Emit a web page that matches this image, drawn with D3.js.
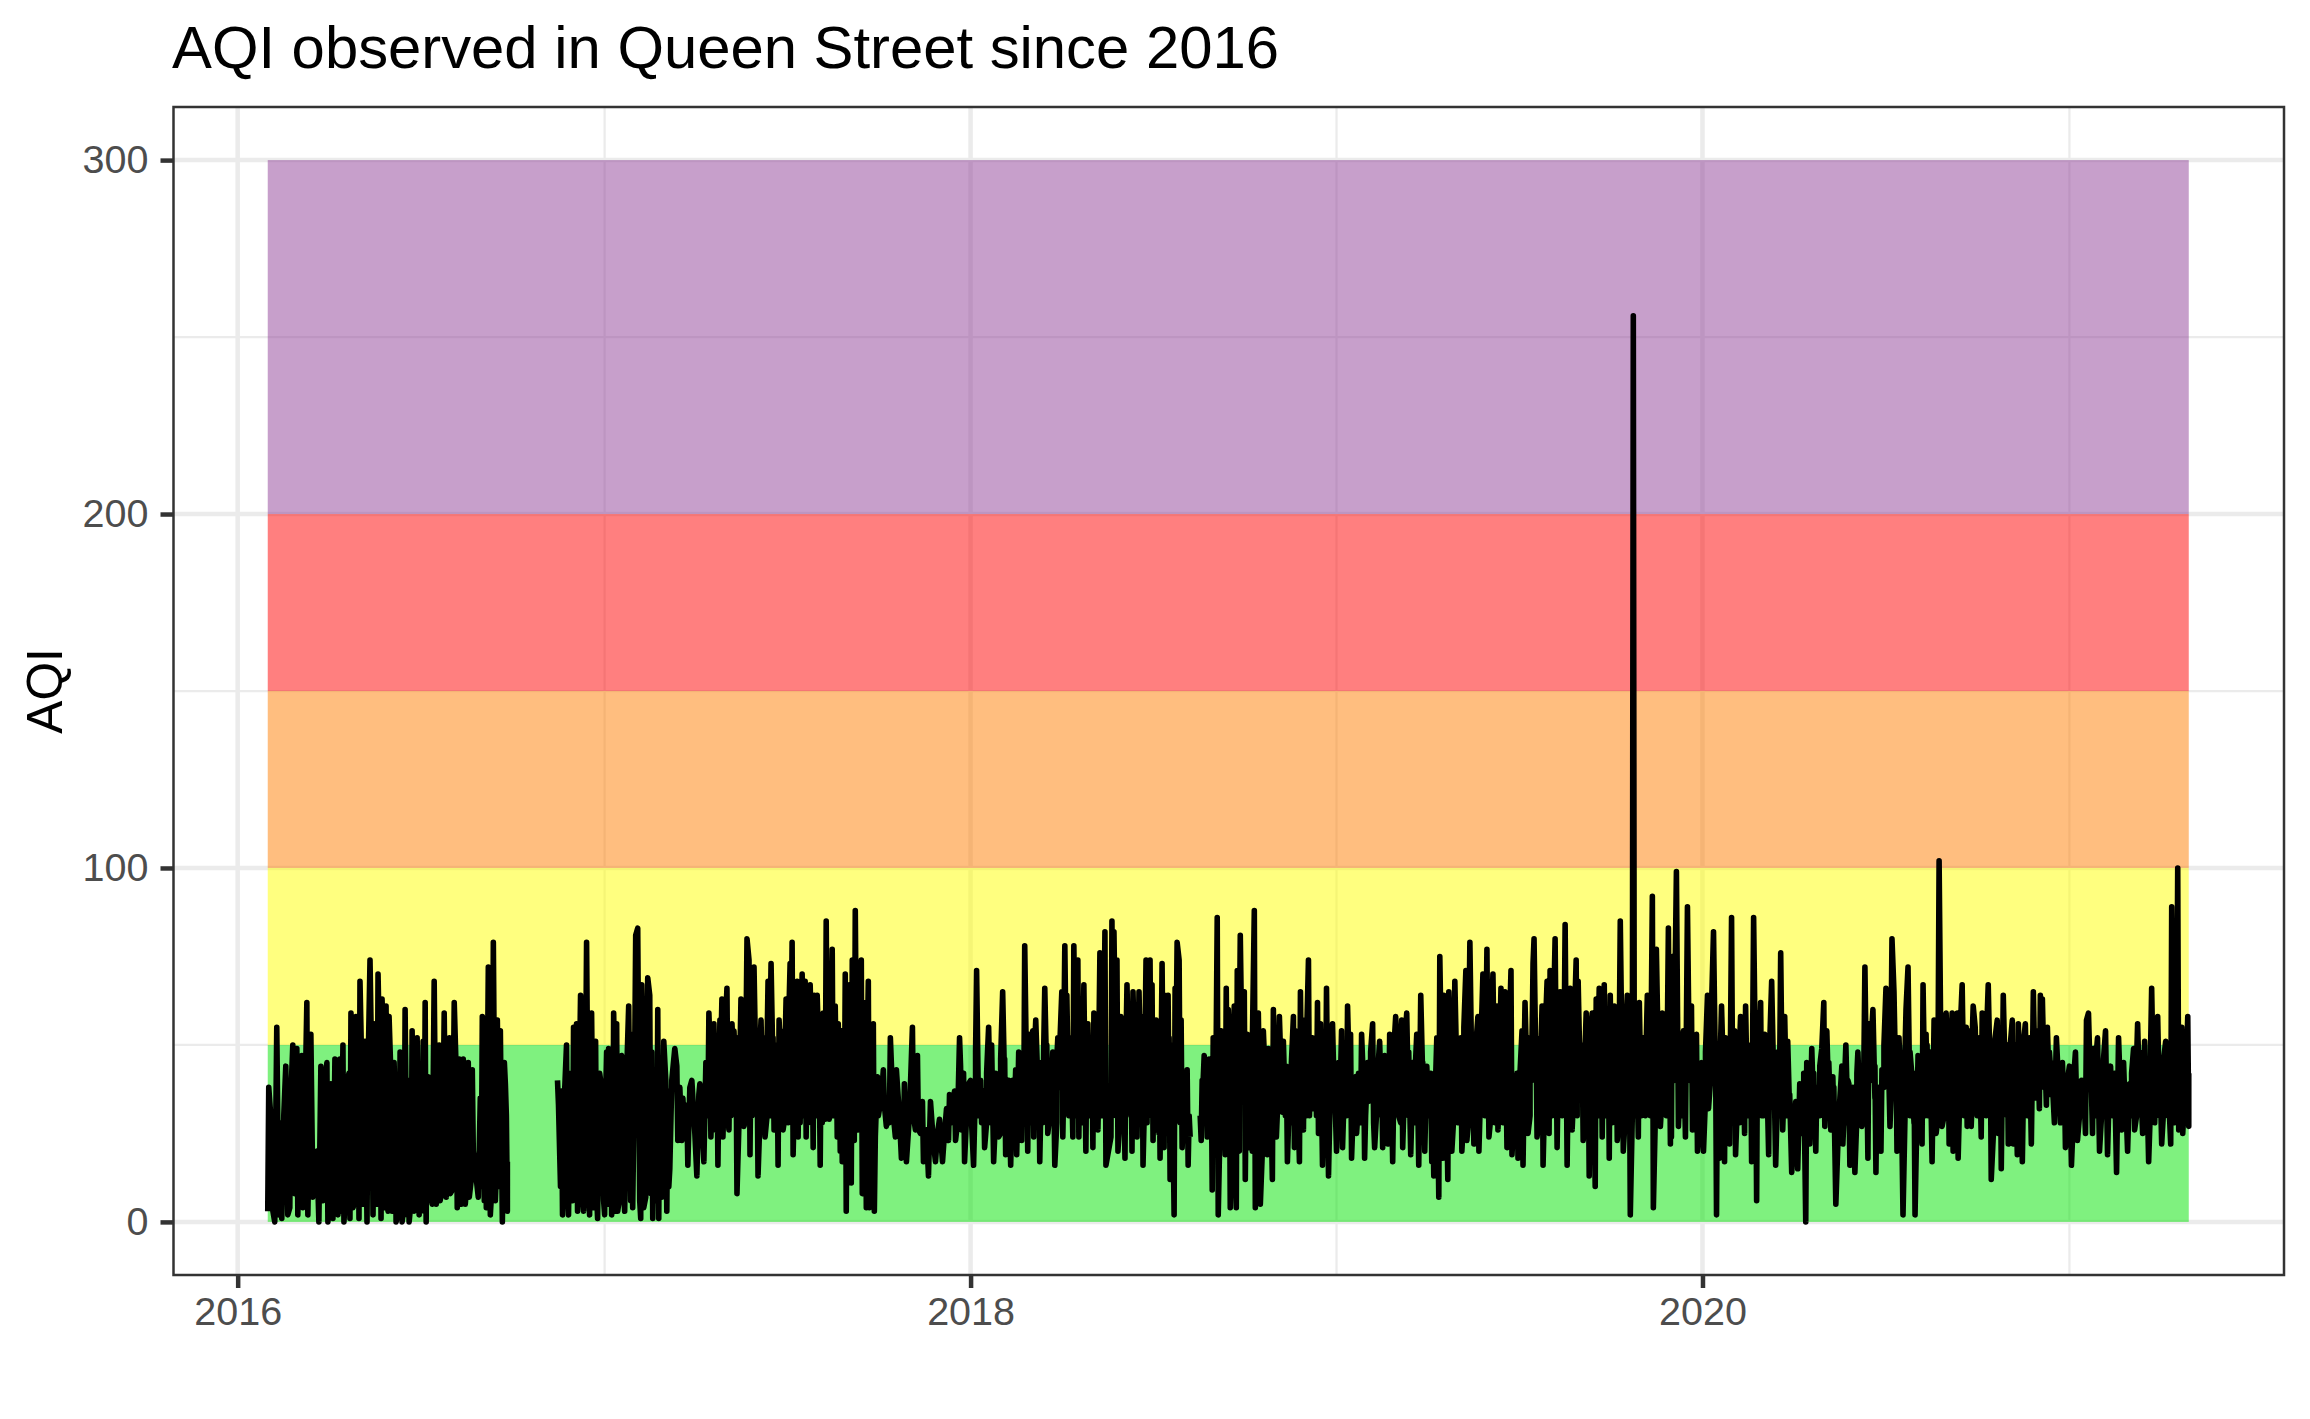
<!DOCTYPE html>
<html>
<head>
<meta charset="utf-8">
<title>AQI observed in Queen Street since 2016</title>
<script src="https://cdnjs.cloudflare.com/ajax/libs/d3/7.8.5/d3.min.js"></script>
<style>
  body { margin: 0; background: #fff; }
  text { font-family: "Liberation Sans", Arial, sans-serif; }
</style>
</head>
<body>
<svg id="chart"></svg>
<script>
// AQI bands: lower, upper, colour
const bandLower = [0, 50, 100, 150, 200];
const bandUpper = [50, 100, 150, 200, 300];
const bandColors = ['#00e400', '#ffff00', '#ff7e00', '#ff0000', '#8f3f97'];

const yMajorTicks = [0, 100, 200, 300];
const yMinorTicks = [50, 150, 250];
const xMajorYears = ['2016-01-01', '2018-01-01', '2020-01-01'];
const xMinorYears = ['2017-01-01', '2019-01-01', '2021-01-01'];

// Peaks and troughs as [days after the block's start date, AQI], null = no data
const startA = '2016-01-31';
const readingsA = [[0,3],[1,38],[4,5],[7,0],[9,55],[11,2],[14,1],[18,44],[20,2],[22,4],[25,50],[27,8],[29,49],[30,2],[34,47],[35,4],[39,62],[40,2],[43,53],[45,7],[47,14],[51,0],[53,44],[55,6],[59,45],[60,0],[63,39],[65,1],[67,46],[70,2],[72,46],[73,3],[75,50],[76,0],[79,39],[82,1],[83,59],[85,4],[88,58],[91,1],[92,68],[95,5],[97,51],[99,0],[102,74],[105,2],[107,56],[110,70],[113,1],[114,63],[117,4],[118,61],[120,3],[121,58],[124,3],[126,45],[128,0],[130,3],[132,48],[134,0],[137,60],[139,2],[141,0],[144,54],[146,3],[149,52],[151,2],[155,51],[156,3],[157,62],[158,0],[160,41],[164,5],[166,68],[168,5],[171,50],[172,6],[176,59],[178,7],[181,52],[182,8],[186,62],[189,4],[191,46],[193,5],[195,46],[197,5],[200,45],[201,7],[204,43],[205,20],[210,7],[212,35],[214,58],[216,6],[218,4],[220,72],[222,2],[225,79],[227,6],[229,57],[232,54],[234,0],[237,39],[239,3],[239,17],[240,null]];

const startB = '2016-11-07';
const readingsB = [[8,40],[9,33],[12,37],[13,2],[17,50],[19,2],[23,6],[24,55],[27,56],[28,3],[31,64],[34,3],[37,79],[40,2],[42,59],[44,4],[46,51],[48,1],[52,38],[55,2],[57,48],[58,5],[59,49],[62,2],[64,59],[66,3],[67,56],[68,3],[72,47],[75,3],[79,61],[82,53],[83,4],[86,81],[88,83],[91,1],[92,67],[94,4],[98,69],[100,64],[102,48],[103,1],[108,60],[109,1],[114,51],[117,3],[118,37],[120,15],[125,49],[127,44],[128,23],[132,23],[133,35],[137,33],[138,16],[142,40],[147,13],[150,39],[154,17],[156,45],[159,59],[161,24],[164,56],[168,16],[170,57],[172,63],[173,24],[177,66],[179,26],[182,56],[184,54],[187,8],[191,63],[194,27],[197,80],[199,74],[200,19],[204,72],[208,13],[211,57],[215,24],[218,68],[221,73],[224,26],[228,16],[229,57],[231,54],[233,26],[236,63],[240,73],[242,79],[243,19],[247,68],[248,24],[252,70],[255,68],[256,24],[260,67],[263,21],[264,64],[267,64],[270,16],[273,59],[275,29],[276,85],[279,29]];

const startC = '2017-08-14';
const readingsC = [[0,32],[2,77],[5,61],[7,24],[8,56],[10,20],[12,17],[15,70],[16,3],[19,67],[21,11],[22,74],[24,23],[25,88],[28,26],[31,74],[32,8],[35,62],[36,4],[38,68],[39,4],[43,56],[44,3],[47,41],[48,30],[53,43],[54,33],[57,31],[60,52],[65,24],[66,43],[71,18],[74,39],[76,17],[82,55],[83,30],[87,47],[88,26],[92,34],[93,17],[98,13],[100,34],[105,17],[109,29],[112,17],[116,32],[118,23],[119,36],[124,37],[125,23],[129,52],[133,42],[134,17],[138,39],[143,16],[146,71],[148,30],[153,37],[154,21],[158,55],[161,50],[163,17],[167,35],[168,24],[172,65],[175,19],[178,40],[180,16],[185,43],[186,19],[191,23],[194,78],[197,20],[198,53],[202,54],[203,24],[205,57],[209,17],[214,66],[217,25],[220,35],[224,16],[227,52],[231,65],[232,24],[234,78],[236,64],[242,24],[243,78],[247,74],[248,24],[253,67],[255,20],[257,56],[262,21],[263,59],[267,26],[269,76],[271,30],[274,82],[275,16]];

const startD = '2018-05-20';
const readingsD = [[1,24],[2,85],[4,82],[7,74],[8,20],[11,58],[15,18],[17,67],[22,20],[23,65],[27,24],[29,65],[32,58],[33,16],[36,74],[38,30],[40,74],[42,67],[43,23],[46,57],[50,18],[52,73],[54,21],[55,64],[58,64],[60,12],[64,2],[65,66],[67,79],[69,74],[71,57],[72,21],[77,43],[78,16],[80,24],[85,null],[90,30],[91,23],[94,47],[97,24],[99,46],[102,9],[103,52],[107,86],[108,2],[111,54],[115,19],[116,66],[118,60],[120,4],[124,61],[126,4],[127,71],[130,81],[134,65],[135,12],[137,53],[138,21],[144,88],[145,4],[148,59],[150,5],[153,54],[157,19],[158,49],[162,12],[163,60],[166,24],[169,58],[172,31],[173,51],[176,44],[177,17],[183,58],[184,21],[185,54],[189,17],[190,65],[193,26],[194,57],[198,74],[199,30],[202,52],[203,32],[207,62],[208,25],[210,56],[212,16],[216,66],[218,13],[222,56],[226,20],[231,54],[232,21],[237,61],[240,53],[241,18],[245,41],[246,25],[251,53],[254,18],[257,45],[258,34],[262,56],[264,21],[269,51],[272,21],[274,47],[277,22],[279,53]];

const startE = '2019-02-23';
const readingsE = [[3,17],[6,58],[9,30],[12,57],[13,21],[17,59],[21,19],[27,53],[29,16],[31,64],[35,20],[37,44],[42,17],[43,34],[44,13],[47,52],[49,7],[50,75],[53,18],[54,64],[58,12],[59,65],[62,20],[65,68],[70,45],[72,20],[76,71],[77,23],[80,79],[84,22],[88,58],[89,20],[93,70],[95,30],[97,77],[99,24],[103,70],[105,28],[107,61],[108,26],[111,66],[113,28],[115,65],[117,21],[121,71],[122,19],[125,41],[128,18],[132,54],[133,16],[135,62],[138,25],[143,73],[144,80],[147,24],[152,61],[153,16],[157,68],[159,25],[160,71],[165,80],[167,21],[170,65],[175,84],[177,16],[180,66],[182,26],[186,74],[188,68],[193,23],[196,59],[199,13],[200,52],[202,59],[205,10],[206,63],[209,66],[212,24],[214,67],[219,18],[220,64],[222,28],[224,61],[227,23],[230,85],[233,20],[237,64],[240,2],[242,30],[243,256],[244,30],[248,24],[249,62],[255,30],[257,64],[260,30],[262,92],[263,4],[266,77],[270,27],[272,59],[276,30],[278,83],[280,22]];

const startF = '2019-11-29';
const readingsF = [[2,24],[3,75],[7,99],[9,27],[14,54],[16,24],[18,89],[22,61],[23,26],[27,53],[28,20],[32,45],[34,20],[38,64],[39,32],[44,82],[47,2],[48,47],[50,18],[52,61],[55,17],[56,52],[60,22],[62,86],[65,54],[66,19],[71,58],[75,25],[76,61],[80,47],[82,17],[84,86],[87,6],[88,59],[91,62],[92,30],[95,53],[99,19],[100,50],[102,68],[106,16],[111,76],[113,26],[115,58],[118,51],[122,14],[126,34],[128,15],[130,39],[136,0],[137,45],[140,22],[142,49],[146,20],[147,38],[152,49],[154,62],[155,27],[157,54],[161,26],[163,41],[166,5],[172,44],[173,22],[176,50],[179,39],[180,16],[185,14],[188,48],[192,27],[195,72],[198,18],[199,56],[203,60],[206,14],[207,38],[211,20],[212,43],[216,66],[220,27],[222,80],[224,65],[227,20],[229,52],[233,2],[236,60],[238,72],[242,41],[245,2],[248,47],[252,22],[253,67],[256,53],[258,30]];

const startG = '2020-08-14';
const readingsG = [[3,17],[5,57],[7,25],[10,102],[13,27],[17,59],[20,22],[23,59],[24,20],[28,59],[29,18],[33,67],[38,27],[41,54],[42,27],[44,61],[46,55],[52,24],[53,59],[59,67],[62,12],[68,57],[69,25],[72,15],[74,64],[79,22],[83,57],[84,22],[88,19],[89,56],[93,17],[96,56],[102,22],[104,65],[110,32],[111,64],[113,63],[117,33],[118,55],[125,28],[127,52],[131,28],[133,45],[136,21],[140,44],[142,16],[146,48],[148,23],[152,40],[156,25],[157,57],[159,59],[163,25],[164,49],[168,52],[170,20],[176,54],[178,19],[181,44],[187,14],[189,52],[192,26],[194,45],[198,20],[200,39],[204,49],[205,26],[208,56],[213,25],[215,51],[219,17],[222,66],[225,28],[228,58],[232,22],[236,51],[241,22],[242,89],[245,28],[248,100],[249,26],[252,55],[253,25],[258,58],[259,27],[259,42]];

// Readings estimated inside the dense black mass, between the peaks and troughs
const denseA = [[3,30],[12,28],[16,30],[23,35],[32,36],[37,30],[49,20],[57,38],[62,8],[69,33],[78,10],[81,42],[87,6],[90,44],[94,40],[100,42],[104,38],[109,5],[112,41],[116,44],[119,6],[123,40],[127,35],[131,7],[136,5],[140,40],[143,6],[148,8],[152,42],[154,7],[159,39],[162,9],[165,38],[170,40],[174,10],[179,44],[184,9],[188,42],[192,10],[196,41],[199,12],[203,12],[213,10],[217,40],[221,45],[224,12],[228,14],[231,10],[236,45],[238,30]];
const denseB = [[11,10],[15,36],[18,8],[21,42],[26,8],[30,44],[33,7],[36,40],[39,8],[41,45],[45,40],[47,8],[50,42],[54,6],[56,35],[61,42],[63,6],[65,44],[70,7],[71,46],[74,8],[77,42],[81,6],[85,46],[90,6],[93,45],[96,7],[97,48],[101,8],[105,40],[107,6],[110,45],[112,7],[116,40],[119,10],[122,40],[130,38],[135,26],[140,38],[145,25],[149,36],[152,28],[158,30],[163,42],[166,26],[169,40],[175,44],[178,30],[181,30],[186,40],[189,28],[193,40],[196,30],[202,30],[206,40],[210,30],[213,28],[217,30],[220,30],[223,42],[226,44],[232,28],[235,30],[238,28],[241,30],[245,44],[250,28],[254,30],[258,28],[262,44],[266,30],[269,46],[272,28],[277,40],[278,30]];
const denseC = [[3,30],[6,40],[9,45],[11,40],[14,22],[18,35],[20,50],[23,40],[27,45],[29,30],[30,40],[33,35],[34,30],[37,40],[41,42],[42,15],[45,24],[51,35],[56,27],[59,28],[63,30],[69,30],[73,22],[79,30],[85,26],[90,25],[96,26],[103,22],[107,25],[114,25],[121,28],[127,28],[131,26],[136,30],[141,28],[145,40],[151,28],[156,28],[160,28],[165,30],[170,25],[174,38],[177,26],[183,26],[189,40],[193,30],[196,38],[200,28],[207,40],[212,28],[216,40],[219,30],[223,38],[226,28],[229,38],[233,40],[238,30],[240,44],[245,30],[250,40],[252,28],[259,30],[261,44],[265,30],[268,40],[273,30]];
const denseD = [[3,30],[6,40],[10,30],[13,45],[19,40],[21,30],[25,40],[26,30],[31,35],[35,40],[37,28],[41,35],[45,26],[48,40],[49,25],[53,40],[57,25],[59,30],[62,40],[66,30],[70,28],[74,35],[76,25],[79,30],[93,40],[96,40],[101,40],[105,30],[106,40],[110,30],[113,40],[117,30],[119,45],[122,20],[125,40],[129,20],[132,40],[136,40],[140,45],[142,20],[147,25],[149,40],[152,20],[155,40],[156,26],[160,40],[164,40],[168,38],[171,40],[175,30],[179,36],[181,28],[187,40],[188,28],[191,40],[196,30],[200,40],[205,38],[206,30],[209,35],[214,38],[215,30],[220,40],[224,32],[228,38],[229,28],[234,40],[236,30],[239,38],[243,34],[248,34],[250,28],[253,38],[255,30],[260,40],[263,28],[267,36],[271,30],[275,36],[278,28]];
const denseE = [[1,40],[4,35],[8,40],[11,28],[15,40],[19,30],[23,40],[25,28],[33,40],[39,30],[41,38],[46,26],[52,40],[56,30],[61,40],[64,30],[68,28],[71,40],[74,30],[79,30],[82,40],[86,40],[91,40],[94,42],[98,40],[101,30],[106,40],[110,40],[112,40],[114,40],[119,40],[124,30],[127,38],[130,30],[134,35],[137,40],[140,30],[142,40],[146,40],[149,30],[151,38],[155,40],[158,40],[162,30],[163,40],[168,40],[172,30],[174,40],[178,40],[181,38],[184,40],[187,30],[190,40],[192,40],[195,30],[198,40],[203,30],[208,30],[211,40],[216,30],[218,42],[226,40],[229,30],[232,40],[235,30],[239,40],[246,40],[251,30],[253,44],[256,44],[259,44],[265,30],[268,45],[271,32],[274,44],[277,44],[279,40]];
const denseF = [[1,40],[5,40],[11,40],[12,30],[20,40],[25,40],[30,28],[36,35],[41,40],[46,40],[51,30],[54,40],[58,30],[63,40],[68,35],[70,28],[73,40],[78,30],[81,40],[86,40],[90,35],[94,30],[97,35],[104,40],[108,38],[110,30],[114,35],[117,30],[120,30],[125,30],[132,25],[134,35],[139,32],[144,30],[150,30],[156,40],[159,33],[164,30],[169,30],[175,35],[178,28],[183,30],[187,30],[190,32],[194,35],[197,30],[201,40],[205,35],[209,32],[214,38],[218,40],[221,35],[226,35],[231,35],[235,30],[240,30],[244,28],[250,38],[255,30],[257,36]];
const denseG = [[1,40],[6,40],[9,30],[12,40],[15,30],[19,40],[22,35],[26,40],[31,40],[35,30],[37,45],[40,35],[43,35],[48,30],[50,40],[55,35],[57,30],[61,40],[65,30],[71,40],[76,40],[78,30],[81,40],[86,35],[91,38],[94,35],[98,30],[100,40],[106,35],[108,36],[112,40],[115,38],[120,36],[122,40],[129,40],[135,30],[138,30],[144,30],[150,30],[154,30],[161,38],[166,30],[172,30],[174,38],[179,30],[183,30],[185,35],[191,35],[196,28],[202,30],[207,30],[210,35],[217,30],[221,34],[224,35],[230,30],[234,32],[238,30],[244,40],[247,30],[251,35],[255,36],[257,30]];

// Estimated readings along the top of the solid mass
const upperB = [[160,50],[163,50],[167,48],[171,50],[175,52],[180,50],[183,50],[186,52],[190,48],[193,52],[196,52],[201,50],[203,50],[207,48],[210,50],[214,52],[217,50],[220,54],[223,52],[227,50],[230,50],[235,50],[238,50],[241,52],[246,54],[249,52],[251,52],[254,52],[257,50],[259,52],[262,52],[265,50],[268,54],[271,50],[274,50],[278,54]];
const upperC = [[4,52],[6,54],[9,50],[11,54],[13,52],[17,50],[20,55],[23,54],[26,52],[30,54],[33,50],[37,50],[40,50],[130,44],[140,40],[145,48],[150,40],[156,42],[160,44],[165,42],[170,46],[174,46],[177,40],[182,40],[188,48],[192,46],[196,50],[200,48],[204,50],[208,45],[211,45],[213,50],[216,50],[219,44],[222,48],[226,46],[229,50],[233,52],[235,55],[238,50],[240,52],[245,50],[249,50],[252,50],[256,50],[259,50],[261,50],[265,48],[268,52],[270,52],[273,50]];
const upperD = [[3,52],[6,50],[10,50],[13,50],[16,50],[19,52],[21,50],[25,50],[26,52],[31,50],[35,52],[37,50],[39,55],[41,50],[44,50],[48,50],[49,50],[53,52],[56,52],[59,52],[62,50],[66,50],[70,45],[74,42],[92,40],[96,42],[101,45],[105,50],[106,52],[110,50],[113,50],[117,48],[119,55],[122,45],[125,52],[129,50],[132,50],[136,50],[140,50],[142,50],[147,48],[149,50],[152,48],[155,48],[160,42],[164,44],[168,45],[171,42],[175,40],[179,42],[181,45],[187,45],[191,48],[196,50],[200,48],[205,50],[209,48],[214,45],[220,45],[224,40],[228,45],[234,45],[239,44],[243,40],[248,42],[253,45],[260,48],[267,42],[271,42],[275,42]];
const upperE = [[1,48],[4,48],[8,50],[11,50],[15,50],[19,48],[23,45],[25,40],[33,45],[39,40],[41,42],[46,42],[52,45],[56,50],[61,50],[64,50],[68,50],[71,52],[74,55],[79,55],[82,50],[86,50],[91,50],[94,52],[98,50],[101,52],[106,50],[110,52],[112,52],[114,50],[119,50],[124,38],[127,42],[130,42],[134,45],[137,48],[140,52],[142,52],[146,52],[149,50],[151,50],[155,52],[158,52],[162,50],[163,52],[168,52],[172,50],[174,52],[178,54],[181,52],[184,54],[187,50],[190,48],[192,50],[195,50],[198,48],[203,50],[208,52],[211,52],[216,50],[218,52],[226,50],[229,52],[232,52],[235,50],[239,54],[246,52],[251,52],[253,52],[256,52],[259,54],[265,52],[268,56],[271,52],[274,54],[277,54],[279,54]];
const upperF = [[1,50],[5,54],[11,52],[12,50],[20,50],[25,48],[30,44],[36,48],[41,50],[46,50],[51,50],[54,48],[58,50],[63,54],[68,50],[70,50],[73,52],[78,50],[81,50],[86,52],[90,50],[94,46],[97,44],[104,48],[108,48],[110,44],[114,48],[117,42],[120,36],[132,38],[134,42],[139,40],[144,42],[150,44],[156,50],[159,45],[164,38],[175,42],[178,40],[183,38],[187,42],[190,40],[194,45],[197,40],[201,50],[205,44],[209,38],[214,50],[218,52],[221,50],[226,48],[231,42],[235,48],[240,48],[244,42],[250,46],[255,48],[257,50]];
const upperG = [[1,48],[6,52],[9,50],[12,50],[15,52],[19,50],[22,52],[26,54],[31,54],[35,50],[37,55],[40,52],[43,52],[48,50],[50,52],[55,50],[57,50],[61,50],[65,50],[71,50],[76,50],[78,50],[81,50],[86,50],[91,50],[94,50],[98,50],[100,52],[106,50],[108,54],[112,54],[115,52],[120,48],[122,45],[129,45],[135,40],[138,40],[144,40],[150,38],[154,40],[161,48],[166,45],[172,44],[174,46],[179,40],[183,40],[185,42],[191,42],[196,36],[202,42],[207,46],[210,48],[217,42],[221,50],[224,50],[230,46],[234,46],[238,42],[244,50],[247,48],[251,48],[255,50],[257,48]];

const blocks = [
  [startA, readingsA, denseA, []], [startB, readingsB, denseB, upperB], [startC, readingsC, denseC, upperC],
  [startD, readingsD, denseD, upperD], [startE, readingsE, denseE, upperE], [startF, readingsF, denseF, upperF],
  [startG, readingsG, denseG, upperG]
];

const parseDate = d3.utcParse('%Y-%m-%d');
// sort is stable, so points sharing a day keep the order they were read in
const series = blocks.flatMap(([start, readings, dense, upper]) =>
  readings.concat(dense, upper)
    .sort((a, b) => a[0] - b[0])
    .map(r => ({ date: d3.utcDay.offset(parseDate(start), r[0]), aqi: r[1] })));
const dateRange = d3.extent(series, d => d.date);

const bands = bandLower.map((low, i) => ({ low: low, high: bandUpper[i], color: bandColors[i] }));

// Layout
const width = 2310, height = 1419;
const panel = { left: 173.5, right: 2284, top: 107, bottom: 1275 };

const svg = d3.select('#chart').attr('width', width).attr('height', height);

const xScale = d3.scaleUtc()
    .domain([parseDate('2015-10-29'), parseDate('2021-08-03')])
    .range([panel.left, panel.right]);
const yScale = d3.scaleLinear()
    .domain([-15, 315])
    .range([panel.bottom, panel.top]);

// Grid lines sit under the translucent bands
const grid = svg.append('g').attr('stroke', '#ebebeb');
grid.selectAll('.y-major').data(yMajorTicks).join('line')
    .attr('x1', panel.left).attr('x2', panel.right)
    .attr('y1', d => yScale(d)).attr('y2', d => yScale(d))
    .attr('stroke-width', 4.5);
grid.selectAll('.y-minor').data(yMinorTicks).join('line')
    .attr('x1', panel.left).attr('x2', panel.right)
    .attr('y1', d => yScale(d)).attr('y2', d => yScale(d))
    .attr('stroke-width', 2.25);
grid.selectAll('.x-major').data(xMajorYears).join('line')
    .attr('x1', d => xScale(parseDate(d))).attr('x2', d => xScale(parseDate(d)))
    .attr('y1', panel.top).attr('y2', panel.bottom)
    .attr('stroke-width', 4.5);
grid.selectAll('.x-minor').data(xMinorYears).join('line')
    .attr('x1', d => xScale(parseDate(d))).attr('x2', d => xScale(parseDate(d)))
    .attr('y1', panel.top).attr('y2', panel.bottom)
    .attr('stroke-width', 2.25);

svg.append('g').selectAll('rect').data(bands).join('rect')
    .attr('x', xScale(dateRange[0]))
    .attr('width', xScale(dateRange[1]) - xScale(dateRange[0]))
    .attr('y', d => yScale(d.high))
    .attr('height', d => yScale(d.low) - yScale(d.high))
    .attr('fill', d => d.color)
    .attr('fill-opacity', 0.5);

const line = d3.line()
    .defined(d => d.aqi !== null)
    .x(d => xScale(d.date))
    .y(d => yScale(d.aqi));

svg.append('path')
    .datum(series)
    .attr('d', line)
    .attr('fill', 'none')
    .attr('stroke', '#000')
    .attr('stroke-width', 5.6)
    .attr('stroke-linejoin', 'round');

// Panel border
svg.append('rect')
    .attr('x', panel.left).attr('y', panel.top)
    .attr('width', panel.right - panel.left).attr('height', panel.bottom - panel.top)
    .attr('fill', 'none')
    .attr('stroke', '#333')
    .attr('stroke-width', 2.5);

// Axes
const xAxis = d3.axisBottom(xScale)
    .tickValues(xMajorYears.map(parseDate))
    .tickFormat(d3.utcFormat('%Y'))
    .tickSize(13).tickPadding(9);
const yAxis = d3.axisLeft(yScale)
    .tickValues(yMajorTicks)
    .tickSize(13).tickPadding(12);

const xAxisG = svg.append('g')
    .attr('transform', `translate(0,${panel.bottom})`)
    .call(xAxis);
const yAxisG = svg.append('g')
    .attr('transform', `translate(${panel.left},0)`)
    .call(yAxis);

[xAxisG, yAxisG].forEach(g => {
  g.select('.domain').remove();
  g.selectAll('.tick line').attr('stroke', '#333').attr('stroke-width', 4.5);
  g.selectAll('.tick text')
      .attr('fill', '#4d4d4d')
      .style('font-family', '"Liberation Sans", Arial, sans-serif')
      .style('font-size', '39.5px');
});

svg.append('text')
    .attr('x', 172)
    .attr('y', 68)
    .attr('fill', '#000')
    .style('font-size', '59.8px')
    .text('AQI observed in Queen Street since 2016');

svg.append('text')
    .attr('transform', `translate(62,${(panel.top + panel.bottom) / 2}) rotate(-90)`)
    .attr('text-anchor', 'middle')
    .attr('fill', '#000')
    .style('font-size', '49.5px')
    .text('AQI');
</script>
</body>
</html>
